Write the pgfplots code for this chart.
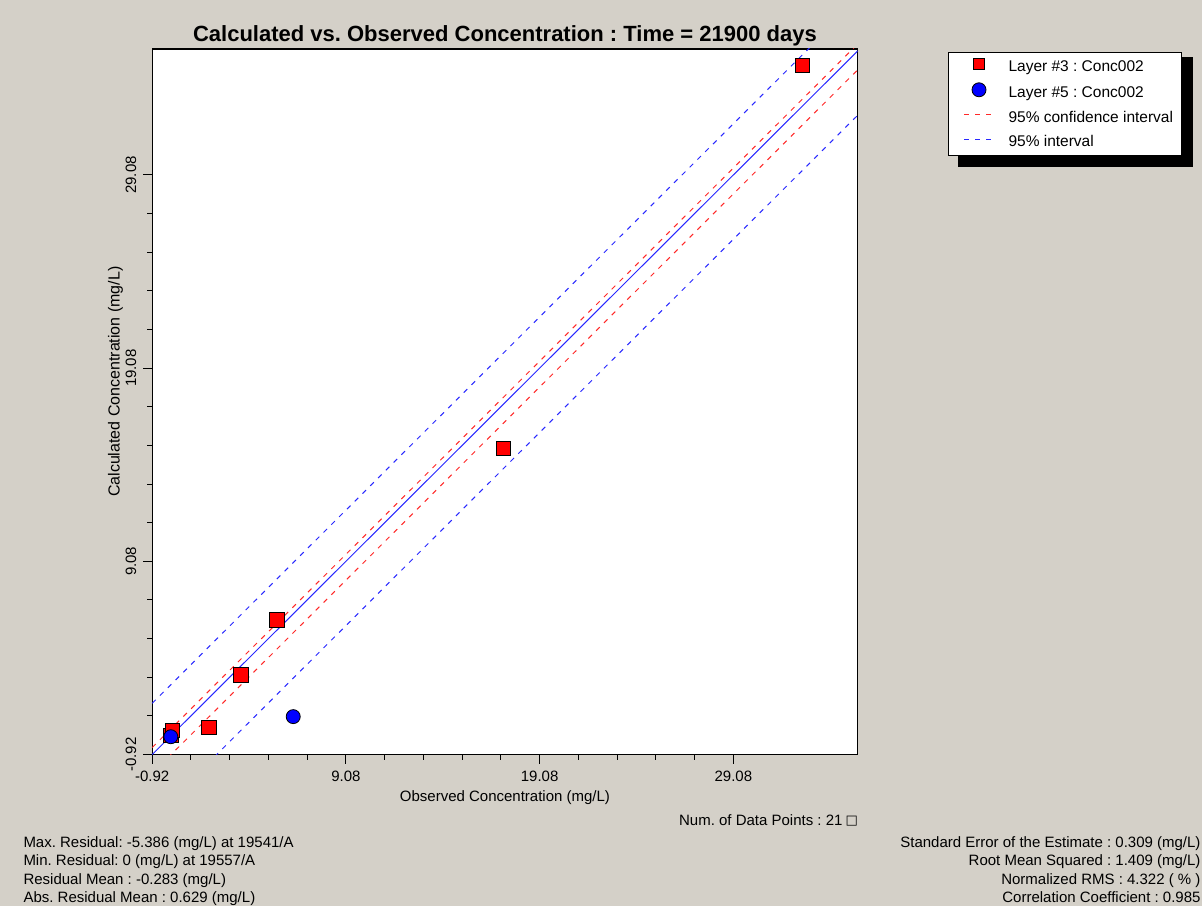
\documentclass[border=0pt]{standalone}
\usepackage{fontspec}
\setmainfont{Liberation Sans}
\newfontfamily\symfont{DejaVu Sans}
\usepackage{pgfplots}
\pgfplotsset{compat=1.18}
\frenchspacing

\definecolor{panelgray}{RGB}{212,208,200}
\definecolor{ptred}{RGB}{255,0,0}
\definecolor{ptblue}{RGB}{0,0,255}
\definecolor{bandred}{RGB}{255,40,40}
\definecolor{bandblue}{RGB}{40,40,255}

\newcommand{\lbl}{\fontsize{15}{18}\selectfont}

\pgfplotsset{
  pt key/.style={legend image code/.code={\path (0pt,0pt); \draw[##1] plot coordinates {(24pt,3pt)};}},
  seg key/.style={legend image code/.code={\path (0pt,0pt); \draw[##1] (9pt,3pt) -- (39pt,3pt);}},
}

\begin{document}
\begin{tikzpicture}[x=1pt,y=1pt]
\useasboundingbox (0,0) rectangle (1202,906);
\clip (0,0) rectangle (1202,906);
\fill[panelgray] (0,0) rectangle (1202,906);
% shadow behind the legend box
\fill[black] (958,739) rectangle (1193,849);

\begin{axis}[
  at={(152.2pt,151.5pt)}, anchor=south west,
  scale only axis, width=705.5pt, height=705.5pt,
  xmin=-0.92, xmax=35.5, ymin=-0.92, ymax=35.6,
  axis background/.style={fill=white},
  axis line style={line width=1.4pt, black},
  tick pos=left, tick align=outside,
  xtick={-0.92,9.08,19.08,29.08}, xticklabels={-0.92,9.08,19.08,29.08},
  ytick={-0.92,9.08,19.08,29.08}, yticklabels={-0.92,9.08,19.08,29.08},
  minor tick num=4,
  major tick length=9pt, minor tick length=5pt,
  every tick/.style={black, line width=1pt},
  xticklabel style={font=\lbl, anchor=base, yshift=-18.2pt},
  yticklabel style={font=\lbl, rotate=90, anchor=base, yshift=7pt},
  title={Calculated vs. Observed Concentration : Time = 21900 days},
  title style={font=\bfseries\fontsize{22}{26}\selectfont, at={(axis description cs:0.5,1)}, anchor=base, yshift=1pt},
  xlabel={Observed Concentration (mg/L)},
  xlabel style={font=\lbl, at={(axis description cs:0.5,0)}, anchor=base, yshift=-47pt},
  ylabel={Calculated Concentration (mg/L)},
  ylabel style={font=\fontsize{16}{19}\selectfont, at={(axis description cs:0,0.5)}, anchor=base, xshift=20pt, yshift=32.7pt},
  legend style={at={(axis description cs:1.128,0.9957)}, anchor=north west,
    draw=black, line width=1pt, fill=white, font=\fontsize{15.5}{18}\selectfont,
    inner xsep=6pt, inner ysep=5.5pt, row sep=8pt,
    /tikz/every odd column/.append style={column sep=12pt}},
  legend cell align=left,
]

% legend samples for the two observation layers
\addlegendimage{only marks, mark=square*, mark size=5.6pt, mark options={fill=ptred, draw=black, line width=1pt}, pt key}
\addlegendentry{Layer \#3 : Conc002}
\addlegendimage{only marks, mark=*, mark size=7pt, mark options={fill=ptblue, draw=black, line width=0.8pt}, pt key}
\addlegendentry{Layer \#5 : Conc002}

% 95% confidence interval around the fit
\addplot[bandred, line width=1pt, dash pattern=on 5pt off 6pt, seg key] coordinates {(-0.92,-0.56) (35.6,35.96)};
\addlegendentry{95\% confidence interval}
\addplot[bandred, line width=1pt, dash pattern=on 5pt off 6pt, forget plot] coordinates {(-0.92,-1.90) (35.6,34.62)};

% 95% prediction interval
\addplot[bandblue, line width=1pt, dash pattern=on 5pt off 6pt, seg key] coordinates {(-0.92,1.73) (35.6,38.25)};
\addlegendentry{95\% interval}
\addplot[bandblue, line width=1pt, dash pattern=on 5pt off 6pt, forget plot] coordinates {(-0.92,-4.25) (35.6,32.27)};

% 1:1 line
\addplot[bandblue, line width=1pt, forget plot] coordinates {(-0.92,-0.92) (35.6,35.6)};

% Layer #3 observations
\addplot[only marks, mark=square*, mark size=7.2pt, mark options={fill=ptred, draw=black, line width=1pt}, forget plot]
  coordinates {(0.06,0.05) (0.14,0.31) (2.01,0.47) (3.66,3.19) (5.52,6.04) (17.21,14.93) (32.64,34.73)};

% Layer #5 observations
\addplot[only marks, mark=*, mark size=7pt, mark options={fill=ptblue, draw=black, line width=0.8pt}, forget plot]
  coordinates {(0.04,0.00) (6.36,1.04)};

\end{axis}

% summary statistics
\begin{scope}[every node/.style={font=\lbl, inner sep=0pt}]
\node[anchor=base east] at (858,81) {Num. of Data Points : 21\hspace{3pt}\raisebox{0.5pt}{\symfont\fontsize{13}{14}\selectfont □}};

\node[anchor=base west] at (23.3,58.7) {Max. Residual: -5.386 (mg/L) at 19541/A};
\node[anchor=base west] at (23.3,40.3) {Min. Residual: 0 (mg/L) at 19557/A};
\node[anchor=base west] at (23.3,21.9) {Residual Mean : -0.283 (mg/L)};
\node[anchor=base west] at (23.3,3.5) {Abs. Residual Mean : 0.629 (mg/L)};

\node[anchor=base east] at (1200.7,58.7) {Standard Error of the Estimate : 0.309 (mg/L)};
\node[anchor=base east] at (1200.7,40.3) {Root Mean Squared : 1.409 (mg/L)};
\node[anchor=base east] at (1200.7,21.9) {Normalized RMS : 4.322 ( \% )};
\node[anchor=base east] at (1200.7,3.5) {Correlation Coefficient : 0.985};
\end{scope}
\end{tikzpicture}
\end{document}
